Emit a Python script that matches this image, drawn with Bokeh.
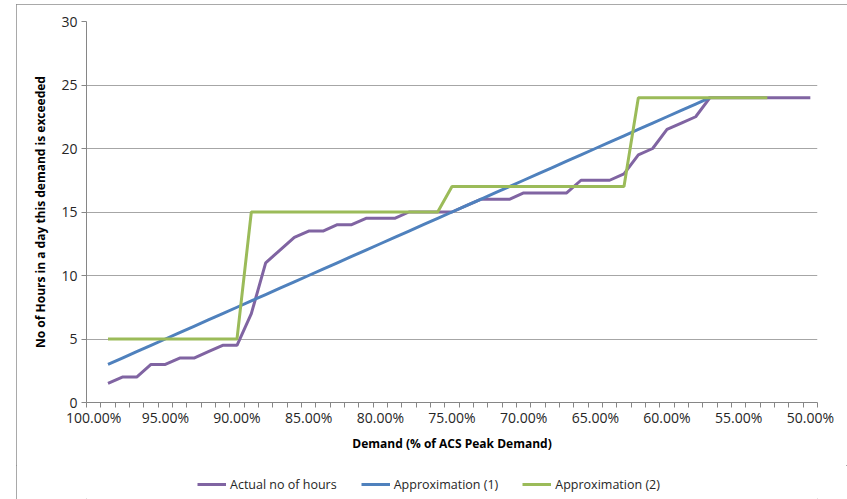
from bokeh.plotting import figure
from bokeh.layouts import column
from bokeh.models import (Range1d, FixedTicker, PrintfTickFormatter, Legend, LegendItem)
from bokeh.embed import file_html
from bokeh.resources import INLINE

# ---- data (x = demand as % of ACS peak demand) ----
demand_actual = [99, 98, 97, 96, 95, 94, 93, 92, 91, 90, 89, 88, 87, 86, 85, 84, 83, 82, 81, 80,
                 79, 78, 77, 76, 75, 74, 73, 72, 71, 70, 69, 68, 67, 66, 65, 64, 63, 62, 61, 60,
                 59, 58, 57, 56, 55, 54, 53, 52, 51, 50]
hours_actual = [1.5, 2, 2, 3, 3, 3.5, 3.5, 4, 4.5, 4.5, 7, 11, 12, 13, 13.5, 13.5, 14, 14, 14.5, 14.5,
                14.5, 15, 15, 15, 15, 15.5, 16, 16, 16, 16.5, 16.5, 16.5, 16.5, 17.5, 17.5, 17.5, 18, 19.5, 20, 21.5,
                22, 22.5, 24, 24, 24, 24, 24, 24, 24, 24]

demand_approx1 = [99, 98, 97, 96, 95, 94, 93, 92, 91, 90, 89, 88, 87, 86, 85, 84, 83, 82, 81, 80,
                  79, 78, 77, 76, 75, 74, 73, 72, 71, 70, 69, 68, 67, 66, 65, 64, 63, 62, 61, 60,
                  59, 58, 57]
hours_approx1 = [3, 3.5, 4, 4.5, 5, 5.5, 6, 6.5, 7, 7.5, 8, 8.5, 9, 9.5, 10, 10.5, 11, 11.5, 12, 12.5,
                 13, 13.5, 14, 14.5, 15, 15.5, 16, 16.5, 17, 17.5, 18, 18.5, 19, 19.5, 20, 20.5, 21, 21.5, 22, 22.5,
                 23, 23.5, 24]

demand_approx2 = [99, 98, 97, 96, 95, 94, 93, 92, 91, 90, 89, 88, 87, 86, 85, 84, 83, 82, 81, 80,
                  79, 78, 77, 76, 75, 74, 73, 72, 71, 70, 69, 68, 67, 66, 65, 64, 63, 62, 61, 60,
                  59, 58, 57, 56, 55, 54, 53]
hours_approx2 = [5, 5, 5, 5, 5, 5, 5, 5, 5, 5, 15, 15, 15, 15, 15, 15, 15, 15, 15, 15,
                 15, 15, 15, 15, 17, 17, 17, 17, 17, 17, 17, 17, 17, 17, 17, 17, 17, 24, 24, 24,
                 24, 24, 24, 24, 24, 24, 24]

x_label_ticks = [100, 95, 90, 85, 80, 75, 70, 65, 60, 55, 50]
x_category_edges = [100.5 - i for i in range(52)]
y_ticks = [0, 5, 10, 15, 20, 25, 30]

series_names = ["Actual no of hours", "Approximation (1)", "Approximation (2)"]
colors = ["#8064A2", "#4F81BD", "#9BBB59"]

FONT = "Open Sans"
TXT = "#262626"
AX = "#868686"

p = figure(width=831, height=461, output_backend="svg", toolbar_location=None,
           x_range=Range1d(100.5, 49.5), y_range=Range1d(0, 30),
           min_border_left=70, min_border_right=30, min_border_top=17, min_border_bottom=63)
p.outline_line_color = None
p.background_fill_color = "white"
p.border_fill_color = "white"

p.line(demand_actual, hours_actual, line_color=colors[0], line_width=3)
p.line(demand_approx1, hours_approx1, line_color=colors[1], line_width=3)
p.line(demand_approx2, hours_approx2, line_color=colors[2], line_width=3)

# x axis
xa = p.xaxis[0]
xa.ticker = FixedTicker(ticks=x_label_ticks, minor_ticks=x_category_edges)
xa.formatter = PrintfTickFormatter(format="%.2f%%")
xa.major_tick_line_color = None
xa.major_tick_out = 5
xa.major_tick_in = 0
xa.minor_tick_line_color = AX
xa.minor_tick_out = 5
xa.minor_tick_in = 0
xa.axis_line_color = AX
xa.major_label_standoff = 0
xa.major_label_text_font = FONT
xa.major_label_text_font_size = "14px"
xa.major_label_text_color = TXT
xa.axis_label = "Demand (% of ACS Peak Demand)"
xa.axis_label_text_font = FONT
xa.axis_label_text_font_size = "12px"
xa.axis_label_text_font_style = "bold"
xa.axis_label_text_color = "#000000"
xa.axis_label_standoff = 5

# y axis
ya = p.yaxis[0]
ya.ticker = FixedTicker(ticks=y_ticks)
ya.minor_tick_line_color = None
ya.major_tick_line_color = AX
ya.major_tick_out = 5
ya.major_tick_in = 0
ya.axis_line_color = AX
ya.major_label_standoff = 4
ya.major_label_text_font = FONT
ya.major_label_text_font_size = "14px"
ya.major_label_text_color = TXT
ya.axis_label = "No of Hours in a day this demand is exceeded"
ya.axis_label_text_font = FONT
ya.axis_label_text_font_size = "12px"
ya.axis_label_text_font_style = "bold"
ya.axis_label_text_color = "#000000"
ya.axis_label_standoff = 9

p.xgrid.grid_line_color = None
p.ygrid.grid_line_color = "#a6a6a6"
p.ygrid.grid_line_width = 1

# legend strip below the chart (same series, drawn outside its visible range)
pl = figure(width=831, height=34, output_backend="svg", toolbar_location=None,
            x_range=Range1d(100.5, 49.5), y_range=Range1d(100, 130),
            x_axis_type=None, y_axis_type=None,
            min_border_left=0, min_border_right=0, min_border_top=0, min_border_bottom=0)
pl.outline_line_color = None
pl.xgrid.visible = False
pl.ygrid.visible = False
l0 = pl.line(demand_actual, hours_actual, line_color=colors[0], line_width=3)
l1 = pl.line(demand_approx1, hours_approx1, line_color=colors[1], line_width=3)
l2 = pl.line(demand_approx2, hours_approx2, line_color=colors[2], line_width=3)

legend = Legend(items=[LegendItem(label=series_names[0], renderers=[l0]),
                       LegendItem(label=series_names[1], renderers=[l1]),
                       LegendItem(label=series_names[2], renderers=[l2])],
                orientation="horizontal", location=(111, 5))
legend.border_line_color = None
legend.background_fill_alpha = 0
legend.label_text_font = FONT
legend.label_text_font_size = "12.5px"
legend.label_text_color = TXT
legend.glyph_width = 29
legend.glyph_height = 20
legend.label_standoff = 4
legend.spacing = 24
legend.padding = 0
legend.margin = 0
pl.add_layout(legend, "center")

layout = column(p, pl, spacing=0, margin=(4, 0, 0, 16),
                styles={"outline": "1px solid #8c8c8c", "outline-offset": "-1px"})
open("out.html", "w").write(file_html(layout, INLINE))
